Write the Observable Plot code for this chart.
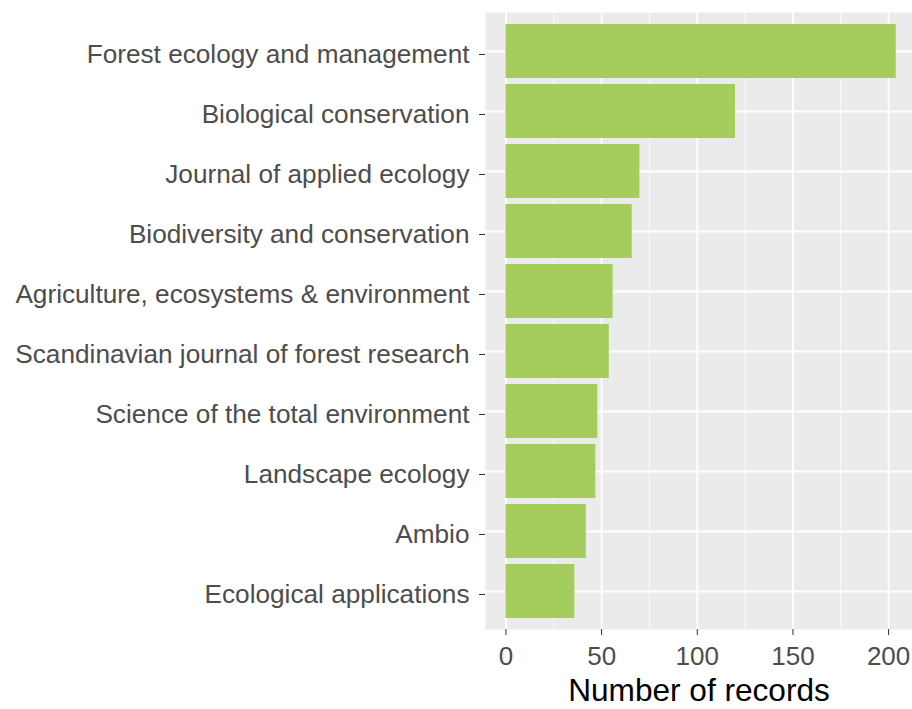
<!DOCTYPE html>
<html>
<head>
<meta charset="utf-8">
<script src="https://cdn.jsdelivr.net/npm/d3@7"></script>
<script src="https://cdn.jsdelivr.net/npm/@observablehq/plot@0.6"></script>
<style>
  html, body { margin: 0; padding: 0; background: #ffffff; }
  #chart svg { display: block; }
</style>
</head>
<body>
<div id="chart"></div>
<script>
const journals = [
  "Forest ecology and management",
  "Biological conservation",
  "Journal of applied ecology",
  "Biodiversity and conservation",
  "Agriculture, ecosystems & environment",
  "Scandinavian journal of forest research",
  "Science of the total environment",
  "Landscape ecology",
  "Ambio",
  "Ecological applications"
];
const records = [204, 120, 70, 66, 56, 54, 48, 47, 42, 36];
const majorTicks = [0, 50, 100, 150, 200];
const minorTicks = [25, 75, 125, 175];
const xTitle = "Number of records";

const data = journals.map((j, i) => ({journal: j, count: records[i]}));

const chart = Plot.plot({
  width: 912,
  height: 709,
  marginLeft: 485,
  marginRight: 0,
  marginTop: 12,
  marginBottom: 80,
  style: {fontFamily: "'Liberation Sans', Arial, sans-serif", background: "#ffffff"},
  x: {domain: [-10.7, 212.5]},
  y: {domain: journals, paddingInner: 0.1, paddingOuter: 0.15},
  marks: [
    Plot.frame({fill: "#ebebeb", stroke: null}),
    Plot.gridX(minorTicks, {stroke: "#ffffff", strokeOpacity: 1, strokeWidth: 0.8}),
    Plot.gridX(majorTicks, {stroke: "#ffffff", strokeOpacity: 1, strokeWidth: 1.8}),
    Plot.gridY({stroke: "#ffffff", strokeOpacity: 1, strokeWidth: 1.8}),
    Plot.barX(data, {x: "count", y: "journal", fill: "#a4cd5e"}),
    Plot.axisY({tickSize: 6, tickPadding: 10, fontSize: 26.2, label: null, color: "#4d4d4d", stroke: "#333333", dy: 3}),
    Plot.axisX({ticks: majorTicks, tickSize: 6, tickPadding: 11, fontSize: 26, label: null, color: "#4d4d4d", stroke: "#333333"}),
    Plot.text([xTitle], {frameAnchor: "bottom", dy: 61, fontSize: 31.6, fill: "#000000", lineAnchor: "middle"})
  ]
});
document.getElementById("chart").appendChild(chart);
</script>
</body>
</html>
